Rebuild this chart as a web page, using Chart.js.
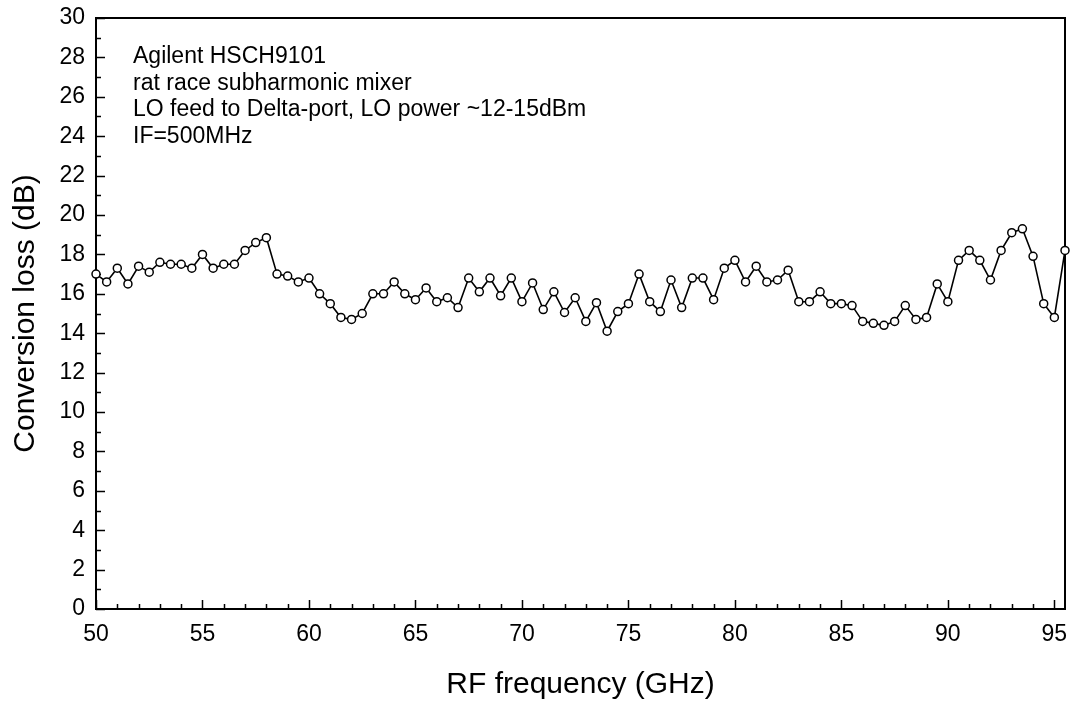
<!DOCTYPE html>
<html>
<head>
<meta charset="utf-8">
<script src="https://cdn.jsdelivr.net/npm/chart.js@4.4.1/dist/chart.umd.min.js"></script>
<style>
body{margin:0;background:#fff;}
#wrap{width:1072px;height:702px;}
</style>
</head>
<body>
<div id="wrap"><canvas id="lossChart" width="1072" height="702"></canvas></div>
<script>
// RF frequency (GHz), one point every 0.5 GHz
const freqGHz = [
  50.0, 50.5, 51.0, 51.5, 52.0, 52.5, 53.0, 53.5, 54.0, 54.5,
  55.0, 55.5, 56.0, 56.5, 57.0, 57.5, 58.0, 58.5, 59.0, 59.5,
  60.0, 60.5, 61.0, 61.5, 62.0, 62.5, 63.0, 63.5, 64.0, 64.5,
  65.0, 65.5, 66.0, 66.5, 67.0, 67.5, 68.0, 68.5, 69.0, 69.5,
  70.0, 70.5, 71.0, 71.5, 72.0, 72.5, 73.0, 73.5, 74.0, 74.5,
  75.0, 75.5, 76.0, 76.5, 77.0, 77.5, 78.0, 78.5, 79.0, 79.5,
  80.0, 80.5, 81.0, 81.5, 82.0, 82.5, 83.0, 83.5, 84.0, 84.5,
  85.0, 85.5, 86.0, 86.5, 87.0, 87.5, 88.0, 88.5, 89.0, 89.5,
  90.0, 90.5, 91.0, 91.5, 92.0, 92.5, 93.0, 93.5, 94.0, 94.5,
  95.0, 95.5
];
// conversion loss (dB)
const convLoss = [
  17.0, 16.6, 17.3, 16.5, 17.4, 17.1, 17.6, 17.5, 17.5, 17.3,
  18.0, 17.3, 17.5, 17.5, 18.2, 18.6, 18.85, 17.0, 16.9, 16.6,
  16.8, 16.0, 15.5, 14.8, 14.7, 15.0, 16.0, 16.0, 16.6, 16.0,
  15.7, 16.3, 15.6, 15.8, 15.3, 16.8, 16.1, 16.8, 15.9, 16.8,
  15.6, 16.55, 15.2, 16.1, 15.05, 15.8, 14.6, 15.55, 14.1, 15.1,
  15.5, 17.0, 15.6, 15.1, 16.7, 15.3, 16.8, 16.8, 15.7, 17.3,
  17.7, 16.6, 17.4, 16.6, 16.7, 17.2, 15.6, 15.6, 16.1, 15.5,
  15.5, 15.4, 14.6, 14.5, 14.4, 14.6, 15.4, 14.7, 14.8, 16.5,
  15.6, 17.7, 18.2, 17.7, 16.7, 18.2, 19.1, 19.3, 17.9, 15.5,
  14.8, 18.2
];
const xRange = [50, 95.5];
const yRange = [0, 30];
const xTickLabels = [50, 55, 60, 65, 70, 75, 80, 85, 90, 95];
const xMajorStep = 5;
const yMajorStep = 2;
const minorStep = 1;
const notes = [
  'Agilent HSCH9101',
  'rat race subharmonic mixer',
  'LO feed to Delta-port, LO power ~12-15dBm',
  'IF=500MHz'
];

const fontFam = '"Liberation Sans", Arial, sans-serif';

// box frame + inward ticks, drawn under the points
const framePlugin = {
  id: 'frame',
  beforeDatasetsDraw(chart) {
    const ctx = chart.ctx;
    const a = chart.chartArea;
    const xs = chart.scales.x;
    const ys = chart.scales.y;
    ctx.save();
    ctx.strokeStyle = '#000';
    ctx.lineWidth = 1.5;
    ctx.beginPath();
    for (let v = xRange[0]; v <= xRange[1] + 0.001; v += minorStep) {
      const px = Math.round(xs.getPixelForValue(v)) + 0.5;
      const len = (v % xMajorStep === 0) ? 9 : 5;
      ctx.moveTo(px, a.bottom);
      ctx.lineTo(px, a.bottom - len);
    }
    for (let v = yRange[0]; v <= yRange[1]; v += minorStep) {
      const py = Math.round(ys.getPixelForValue(v)) + 0.5;
      const len = (v % yMajorStep === 0) ? 9 : 5;
      ctx.moveTo(a.left, py);
      ctx.lineTo(a.left + len, py);
    }
    ctx.stroke();
    ctx.lineWidth = 2;
    ctx.strokeRect(a.left, a.top, a.right - a.left, a.bottom - a.top);

    ctx.fillStyle = '#000';
    ctx.font = '23px ' + fontFam;
    ctx.textBaseline = 'middle';
    ctx.textAlign = 'left';
    notes.forEach((t, i) => {
      ctx.fillText(t, a.left + 37, a.top + 39 + i * 26.5);
    });
    ctx.restore();
  }
};

const ctx = document.getElementById('lossChart').getContext('2d');
new Chart(ctx, {
  type: 'line',
  data: {
    datasets: [{
      label: 'Conversion loss',
      data: freqGHz.map((f, i) => ({ x: f, y: convLoss[i] })),
      borderColor: '#000',
      borderWidth: 1.6,
      pointRadius: 4,
      pointBorderWidth: 1.5,
      pointBackgroundColor: '#fff',
      pointBorderColor: '#000',
      tension: 0,
      clip: false
    }]
  },
  options: {
    responsive: false,
    animation: false,
    events: [],
    layout: { padding: { top: 18, right: 7, left: 0, bottom: 0 } },
    plugins: { legend: { display: false }, tooltip: { enabled: false } },
    scales: {
      x: {
        type: 'linear',
        min: xRange[0],
        max: xRange[1],
        afterFit(scale) {
          scale.height = 93;
          scale.paddingLeft = 0;
          scale.paddingRight = 0;
        },
        afterBuildTicks(scale) {
          scale.ticks = xTickLabels.map(v => ({ value: v }));
        },
        grid: { display: false, drawTicks: false },
        border: { display: false },
        ticks: {
          autoSkip: false,
          maxRotation: 0,
          padding: 12,
          color: '#000',
          font: { family: fontFam, size: 23 }
        },
        title: {
          display: true,
          text: 'RF frequency (GHz)',
          color: '#000',
          font: { family: fontFam, size: 30, lineHeight: 1 },
          padding: { top: 0, bottom: 2 }
        }
      },
      y: {
        min: yRange[0],
        max: yRange[1],
        afterFit(scale) {
          scale.width = 96;
          scale.paddingTop = 0;
          scale.paddingBottom = 0;
        },
        grid: { display: false, drawTicks: false },
        border: { display: false },
        ticks: {
          stepSize: yMajorStep,
          autoSkip: false,
          padding: 11,
          color: '#000',
          font: { family: fontFam, size: 23 }
        },
        title: {
          display: true,
          text: 'Conversion loss (dB)',
          color: '#000',
          font: { family: fontFam, size: 30, lineHeight: 1 },
          padding: { top: 11, bottom: 0 }
        }
      }
    }
  },
  plugins: [framePlugin]
});
</script>
</body>
</html>
